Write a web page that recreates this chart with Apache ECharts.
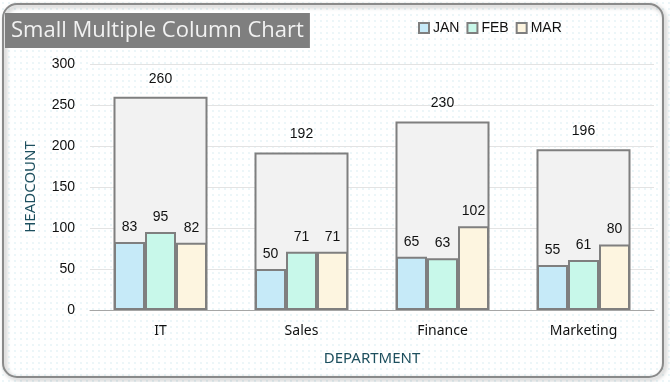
<!DOCTYPE html>
<html><head><meta charset="utf-8">
<script src="https://cdn.jsdelivr.net/npm/echarts@6/dist/echarts.min.js"></script>
<style>
html,body{margin:0;padding:0;background:#fff;}
#c{width:670px;height:382px;
background-image:radial-gradient(circle,#e2f1f5 0.6px,transparent 0.9px);background-size:6px 6px;}
</style></head>
<body><div id="c"></div>
<script>
const departments = ['IT','Sales','Finance','Marketing'];
const jan = [83,50,65,55];
const feb = [95,71,63,61];
const mar = [82,71,102,80];
const totals = [260,192,230,196];
const yTicks = [0,50,100,150,200,250,300];

const chart = echarts.init(document.getElementById('c'));
const border = '#7f7f7f';
const labelStyle = {show:true, position:'top', distance:8, color:'#111', fontSize:14, fontFamily:'Liberation Sans, Arial'};
function monthSeries(name, data, color){
  return {name, type:'bar', xAxisIndex:0, data, barWidth:31, barGap:'0%', z:3,
    itemStyle:{color, borderColor:border, borderWidth:2}, label:labelStyle};
}
chart.setOption({
  animation:false,
  graphic:[{type:'rect', z:-1, shape:{x:3,y:4,width:660,height:373,r:14},
    style:{fill:'rgba(0,0,0,0)', stroke:'#8a8a8a', lineWidth:2, shadowColor:'rgba(0,0,0,0.35)', shadowBlur:4, shadowOffsetX:2, shadowOffsetY:2}}],
  title:{text:'Small Multiple Column Chart', left:5, top:13,
    backgroundColor:'#7f7f7f', padding:[7,6,6,6],
    textStyle:{color:'#f2f2f2', fontSize:22, fontWeight:'normal', fontFamily:'Open Sans, Noto Sans, sans-serif'}},
  legend:{data:['JAN','FEB','MAR'], left:413, top:16, itemWidth:10, itemHeight:10, itemGap:7, icon:'rect',
    itemStyle:{borderColor:'#7f7f7f', borderWidth:2},
    textStyle:{color:'#111', fontSize:14, fontFamily:'Liberation Sans, Arial', padding:[0,0,0,-1]}},
  grid:{left:90, right:16, top:64, bottom:72},
  xAxis:[
    {type:'category', data:departments, name:'DEPARTMENT', nameLocation:'middle', nameGap:41,
     nameTextStyle:{color:'#1d4f5e', fontSize:15, fontFamily:'Noto Sans, sans-serif'},
     axisLine:{lineStyle:{color:'#a6a6a6'}}, axisTick:{show:false},
     axisLabel:{color:'#111', fontSize:14, margin:14, fontFamily:'Noto Sans, sans-serif'}},
    {type:'category', data:departments, show:false}
  ],
  yAxis:{type:'value', min:0, max:300, interval:50, name:'HEADCOUNT', nameLocation:'middle', nameGap:52,
    nameTextStyle:{color:'#1d4f5e', fontSize:15, fontFamily:'Noto Sans, sans-serif'},
    axisLine:{show:false}, axisTick:{show:false},
    axisLabel:{color:'#111', fontSize:14, margin:15, fontFamily:'Liberation Sans, Arial',
      formatter:v=>yTicks.includes(v)?String(v):''},
    splitLine:{lineStyle:{color:'#e3e3e3'}}},
  series:[
    {name:'Total', type:'bar', xAxisIndex:1, data:totals, barWidth:94, z:1,
     itemStyle:{color:'#f2f2f2', borderColor:border, borderWidth:2},
     label:Object.assign({}, labelStyle, {distance:11})},
    monthSeries('JAN', jan, '#c6eaf8'),
    monthSeries('FEB', feb, '#c8f8ea'),
    monthSeries('MAR', mar, '#fdf5e0')
  ]
});
</script></body></html>
